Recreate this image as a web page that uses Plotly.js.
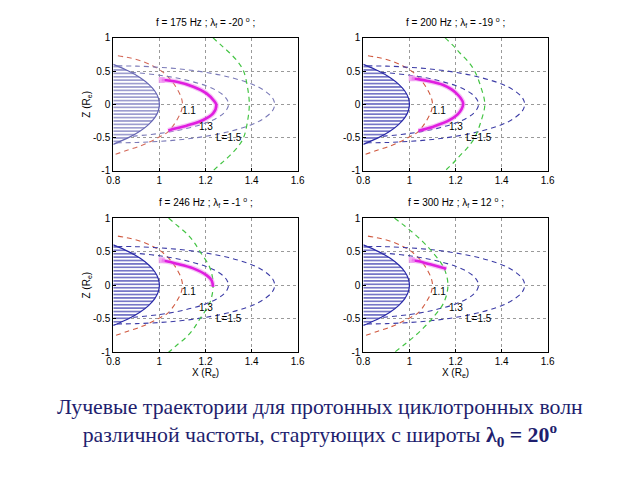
<!DOCTYPE html>
<html><head><meta charset="utf-8">
<script src="https://cdn.plot.ly/plotly-3.0.1.min.js"></script>
<style>html,body{margin:0;padding:0;background:#fff}#chart{width:640px;height:480px}</style>
</head><body><div id="chart"></div>
<script>
// ---- data ----
const frequencies = [175, 200, 246, 300];
const finalLatitudes = [-20, -19, -1, 12];
const xTicks = [0.8, 1, 1.2, 1.4, 1.6];
const xTickText = ['0.8', '1', '1.2', '1.4', '1.6'];
const yTicks = [-1, -0.5, 0, 0.5, 1];
const yTickText = ['-1', '-0.5', '0', '0.5', '1'];

// Earth (hatched)
const earthX = [0.8, 0.866, 0.917, 0.954, 0.98, 0.995, 1.0, 0.995, 0.98, 0.954, 0.917, 0.866, 0.8];
const earthZ = [0.6, 0.5, 0.4, 0.3, 0.2, 0.1, 0, -0.1, -0.2, -0.3, -0.4, -0.5, -0.6];

// red dashed curve (apex 1.1)
const redX = [0.82, 0.88, 0.93, 0.97, 1.005, 1.035, 1.06, 1.08, 1.095, 1.1, 1.095, 1.08, 1.06, 1.035, 1.005, 0.96, 0.92, 0.86, 0.80];
const redZ = [0.73, 0.69, 0.64, 0.58, 0.51, 0.42, 0.32, 0.21, 0.1, 0, -0.1, -0.21, -0.32, -0.42, -0.48, -0.56, -0.62, -0.69, -0.76];

// field line L = 1.3
const l13X = [0.877, 0.9, 1.0, 1.1, 1.2, 1.25, 1.28, 1.295, 1.3, 1.295, 1.28, 1.25, 1.2, 1.1, 1.0, 0.9, 0.877];
const l13Z = [0.48, 0.474, 0.437, 0.377, 0.281, 0.203, 0.129, 0.06, 0, -0.06, -0.129, -0.203, -0.281, -0.377, -0.437, -0.474, -0.48];

// field line L = 1.5
const l15X = [0.816, 0.9, 1.0, 1.1, 1.2, 1.3, 1.4, 1.45, 1.49, 1.5, 1.49, 1.45, 1.4, 1.3, 1.2, 1.1, 1.0, 0.9, 0.816];
const l15Z = [0.577, 0.573, 0.556, 0.527, 0.48, 0.411, 0.305, 0.218, 0.099, 0, -0.099, -0.218, -0.305, -0.411, -0.48, -0.527, -0.556, -0.573, -0.577];

// green dashed curves, one per panel
const green175X = [1.232, 1.27, 1.305, 1.34, 1.365, 1.382, 1.39, 1.382, 1.365, 1.34, 1.305, 1.27, 1.232];
const green200X = [1.154, 1.19, 1.219, 1.255, 1.283, 1.31, 1.327, 1.31, 1.283, 1.255, 1.219, 1.19, 1.154];
const green246X = [1.04, 1.08, 1.118, 1.15, 1.176, 1.219, 1.233, 1.219, 1.176, 1.15, 1.118, 1.08, 1.04];
const green300X = [0.935, 0.98, 1.019, 1.06, 1.098, 1.149, 1.167, 1.149, 1.098, 1.06, 1.019, 0.98, 0.935];
const greenZ = [1.0, 0.88, 0.77, 0.64, 0.5, 0.26, 0, -0.26, -0.5, -0.64, -0.77, -0.88, -1.0];

// ray trajectories (magenta)
const ray175X = [1.01, 1.075, 1.147, 1.204, 1.24, 1.247, 1.233, 1.19, 1.118, 1.046, 1.039];
const ray175Z = [0.365, 0.34, 0.265, 0.165, 0.04, -0.01, -0.135, -0.235, -0.32, -0.385, -0.395];
const ray200X = [1.01, 1.075, 1.147, 1.204, 1.233, 1.219, 1.175, 1.104, 1.039];
const ray200Z = [0.39, 0.355, 0.29, 0.165, 0.015, -0.11, -0.235, -0.335, -0.395];
const ray246X = [1.01, 1.075, 1.147, 1.204, 1.226, 1.233];
const ray246Z = [0.37, 0.32, 0.25, 0.15, 0.074, -0.025];
const ray300X = [1.01, 1.04, 1.09, 1.16];
const ray300Z = [0.375, 0.355, 0.31, 0.245];

// label texts and positions
const lineLabels = ['1.1', '1.3', 'L=1.5'];
const labelX = [1.128, 1.204, 1.3];
const labelZ = [-0.1, -0.34, -0.5];

// ---- build ----
const greens = [green175X, green200X, green246X, green300X];
const raysX = [ray175X, ray200X, ray246X, ray300X];
const raysZ = [ray175Z, ray200Z, ray246Z, ray300Z];
const styles = [
  {blue: '#7a7ab8', earth: '#6666b4', red: '#d46a5a'},
  {blue: '#3c3ca6', earth: '#2a2aa8', red: '#d05a40'},
  {blue: '#3c3ca6', earth: '#2a2aa8', red: '#d05a40'},
  {blue: '#3c3ca6', earth: '#2a2aa8', red: '#d05a40'}
];
const dash = '5px,4px';
const FONT = 'Liberation Sans, Arial, sans-serif';
const traces = [];
const annotations = [];
const layout = {
  width: 640, height: 480,
  margin: {l: 0, r: 0, t: 0, b: 0},
  paper_bgcolor: '#fff', plot_bgcolor: '#fff',
  showlegend: false,
  font: {family: FONT, size: 10, color: '#000'}
};
const xDomains = [[0.177, 0.4652], [0.5677, 0.8558], [0.177, 0.4652], [0.5677, 0.8558]];
const yDomains = [[0.6438, 0.9215], [0.6438, 0.9215], [0.266, 0.5458], [0.266, 0.5458]];

for (let i = 0; i < 4; i++) {
  const n = i + 1;
  const xa = 'x' + (n === 1 ? '' : n);
  const ya = 'y' + (n === 1 ? '' : n);
  const st = styles[i];
  traces.push({x: earthX, y: earthZ, xaxis: xa, yaxis: ya, mode: 'lines', type: 'scatter',
    fill: 'toself', fillcolor: '#fff', line: {color: st.earth, width: 1.2, shape: 'spline'},
    fillpattern: {shape: '-', fgcolor: st.earth, bgcolor: '#fff', size: 3.4, solidity: 0.32},
    hoverinfo: 'skip'});
  traces.push({x: redX, y: redZ, xaxis: xa, yaxis: ya, mode: 'lines', type: 'scatter',
    line: {color: st.red, width: 1.1, dash: dash, shape: 'spline'}});
  traces.push({x: l13X, y: l13Z, xaxis: xa, yaxis: ya, mode: 'lines', type: 'scatter',
    line: {color: st.blue, width: 1.1, dash: dash, shape: 'spline'}});
  traces.push({x: l15X, y: l15Z, xaxis: xa, yaxis: ya, mode: 'lines', type: 'scatter',
    line: {color: st.blue, width: 1.1, dash: dash, shape: 'spline'}});
  traces.push({x: greens[i], y: greenZ, xaxis: xa, yaxis: ya, mode: 'lines', type: 'scatter',
    line: {color: '#44c444', width: 1.2, dash: dash, shape: 'spline'}});
  traces.push({x: raysX[i], y: raysZ[i], xaxis: xa, yaxis: ya, mode: 'lines', type: 'scatter',
    line: {color: 'rgba(235,140,235,0.5)', width: 5, shape: 'spline'}});
  traces.push({x: raysX[i], y: raysZ[i], xaxis: xa, yaxis: ya, mode: 'lines', type: 'scatter',
    line: {color: '#e01ee0', width: 2.6, shape: 'spline'}});
  traces.push({x: [raysX[i][0]], y: [raysZ[i][0]], xaxis: xa, yaxis: ya, mode: 'markers', type: 'scatter',
    marker: {symbol: 'square', size: 6, color: 'rgba(240,150,240,0.8)'}});

  const xKey = 'xaxis' + (n === 1 ? '' : n);
  const yKey = 'yaxis' + (n === 1 ? '' : n);
  const common = {showgrid: true, gridcolor: '#9a9a9a', griddash: 'dot', gridwidth: 1,
    showline: true, mirror: true, linecolor: '#000', linewidth: 1, zeroline: false,
    ticks: 'inside', ticklen: 3, tickcolor: '#000',
    tickfont: {family: FONT, size: 10, color: '#000'}};
  layout[xKey] = Object.assign({}, common, {domain: xDomains[i], anchor: ya, range: [0.8, 1.6],
    tickmode: 'array', tickvals: xTicks, ticktext: xTickText});
  layout[yKey] = Object.assign({}, common, {domain: yDomains[i], anchor: xa, range: [-1, 1],
    tickmode: 'array', tickvals: yTicks, ticktext: yTickText});
  if (i >= 2) layout[xKey].title = {text: 'X (R<sub>e</sub>)', standoff: 1,
    font: {family: FONT, size: 10}};
  if (i % 2 === 0) layout[yKey].title = {text: 'Z (R<sub>e</sub>)', standoff: 0,
    font: {family: FONT, size: 10}};

  annotations.push({xref: 'paper', yref: 'paper', x: (xDomains[i][0] + xDomains[i][1]) / 2,
    y: yDomains[i][1], yshift: 7, yanchor: 'bottom', xanchor: 'center', showarrow: false,
    text: 'f = ' + frequencies[i] + ' Hz ; λ<sub>f</sub> = ' + finalLatitudes[i] + ' <sup>o</sup> ;',
    font: {family: FONT, size: 10, color: '#000'}});
  for (let k = 0; k < lineLabels.length; k++) {
    annotations.push({xref: xa, yref: ya, x: labelX[k], y: labelZ[k], showarrow: false,
      text: lineLabels[k], font: {family: FONT, size: 10, color: '#000'}});
  }
}
annotations.push({xref: 'paper', yref: 'paper', x: 0.5, y: 0.119, xanchor: 'center', yanchor: 'middle',
  showarrow: false, align: 'center',
  text: 'Лучевые траектории для протонных циклотронных волн<br>различной частоты, стартующих с широты <b>λ<sub>0</sub> = 20<sup>o</sup></b>',
  font: {family: 'Liberation Serif, Times New Roman, serif', size: 21.8, color: '#1e1e6e'}});
layout.annotations = annotations;
Plotly.newPlot('chart', traces, layout, {staticPlot: true, displayModeBar: false});
</script></body></html>
